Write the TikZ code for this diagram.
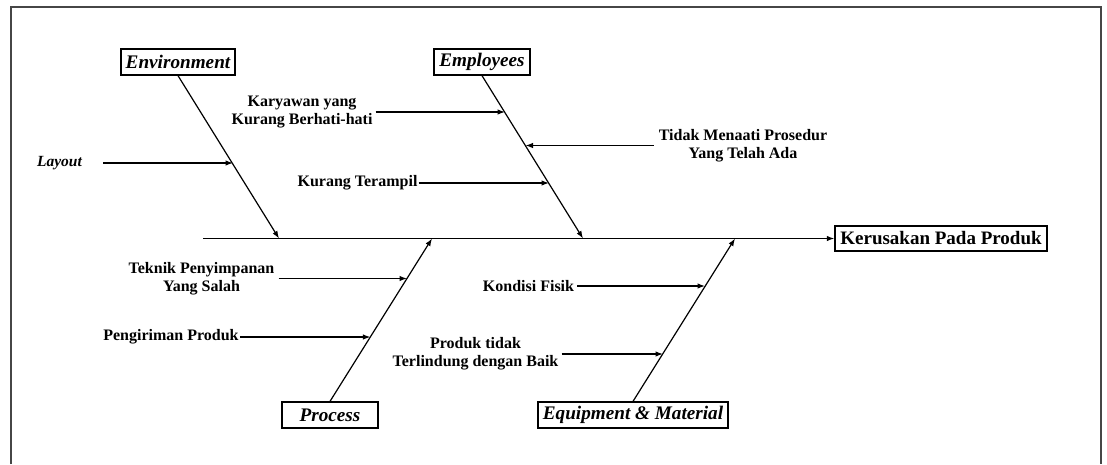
\documentclass[tikz,border=0pt]{standalone}
\usepackage{fontspec}
\setmainfont{Liberation Serif}
\usetikzlibrary{arrows.meta}
\definecolor{framegray}{RGB}{70,70,70}
\begin{document}
\begin{tikzpicture}[x=1pt,y=-1pt,
  cause/.style={font=\fontsize{16}{18}\selectfont\bfseries, align=center, inner sep=1pt},
  cat/.style={draw, line width=1.3pt, font=\fontsize{19.2}{21}\selectfont\bfseries\itshape, inner sep=0pt, minimum height=26pt},
  effectbox/.style={draw, line width=1.3pt, font=\fontsize{19}{21}\selectfont\bfseries, inner sep=0pt, minimum height=25pt},
  arr/.style={line width=1.2pt, -{Latex[length=7.5pt,width=5.5pt]}},
  framestyle/.style={draw=framegray, line width=2pt},
]
\useasboundingbox (0,0) rectangle (1107,464);
\draw[framestyle] (11,464) -- (11,7) -- (1101,7) -- (1101,464);

% category boxes and effect
\node[cat, minimum width=114pt] (env) at (178,62) {Environment};
\node[cat, minimum width=96pt] (emp) at (482,62) {Employees};
\node[cat, minimum width=96pt] (proc) at (330,415) {Process};
\node[cat, minimum width=190pt] (equip) at (633,415) {Equipment \& Material};
\node[effectbox, minimum width=212pt] (effect) at (941,238.5) {Kerusakan Pada Produk};

% spine and bones
\coordinate (spineL) at (203,238.5);
\coordinate (envE) at (279,238.5);
\coordinate (procE) at (432,238.5);
\coordinate (empE) at (583,238.5);
\coordinate (equipE) at (735,238.5);
\draw[arr] (spineL) -- (effect.west);
\draw[arr] (env.south) -- (envE);
\draw[arr] (emp.south) -- (empE);
\draw[arr] (proc.north) -- (procE);
\draw[arr] (equip.north) -- (equipE);

% causes
\node[cause, font=\fontsize{15.5}{18}\selectfont\bfseries\itshape] (layout) at (59.5,163) {Layout};
\coordinate (tLayout) at (233,163);
\draw[arr, shorten <=20pt] (layout.east) -- (tLayout);

\node[cause] (kary) at (302,112) {Karyawan yang\\Kurang Berhati-hati};
\coordinate (tKary) at (505,112);
\draw[arr, shorten <=2pt] (kary.east) -- (tKary);

\node[cause] (tidak) at (743,145.5) {Tidak Menaati Prosedur\\Yang Telah Ada};
\coordinate (tTidak) at (525.5,145.5);
\draw[arr, shorten <=4pt] (tidak.west) -- (tTidak);

\node[cause] (terampil) at (357.5,183) {Kurang Terampil};
\coordinate (tTerampil) at (549,183);
\draw[arr] (terampil.east) -- (tTerampil);

\node[cause] (teknik) at (201.5,278.5) {Teknik Penyimpanan\\Yang Salah};
\coordinate (tTeknik) at (407,278.5);
\draw[arr, shorten <=3pt] (teknik.east) -- (tTeknik);

\node[cause] (kirim) at (171,337) {Pengiriman Produk};
\coordinate (tKirim) at (370.4,337);
\draw[arr] (kirim.east) -- (tKirim);

\node[cause] (kondisi) at (528.5,286) {Kondisi Fisik};
\coordinate (tKondisi) at (705,286);
\draw[arr, shorten <=2pt] (kondisi.east) -- (tKondisi);

\node[cause] (produk) at (475.5,354) {Produk tidak\\Terlindung dengan Baik};
\coordinate (tProduk) at (663,354);
\draw[arr, shorten <=2pt] (produk.east) -- (tProduk);
\end{tikzpicture}
\end{document}
